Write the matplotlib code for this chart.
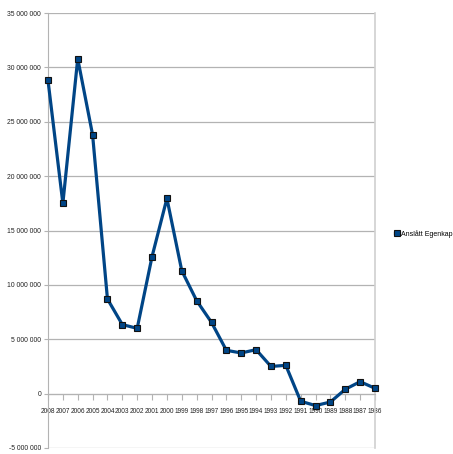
import matplotlib
matplotlib.use("Agg")
import matplotlib.pyplot as plt
from matplotlib.ticker import FuncFormatter

years = ["2008", "2007", "2006", "2005", "2004", "2003", "2002", "2001", "2000",
         "1999", "1998", "1997", "1996", "1995", "1994", "1993", "1992", "1991",
         "1990", "1989", "1988", "1987", "1986"]
equity = [28.8e6, 17.5e6, 30.8e6, 23.8e6, 8.7e6, 6.35e6, 6.0e6, 12.6e6, 17.95e6,
          11.3e6, 8.55e6, 6.55e6, 3.98e6, 3.74e6, 4.04e6, 2.5e6, 2.6e6, -0.7e6,
          -1.1e6, -0.77e6, 0.4e6, 1.1e6, 0.49e6]
series_name = "Anslått Egenkapital"

blue = "#004586"
grey = "#b3b3b3"

plt.rcParams["font.family"] = ["Liberation Sans", "DejaVu Sans"]

fig = plt.figure(figsize=(4.53, 4.54), dpi=100)
ax = fig.add_axes([48 / 453, 1 - 448 / 454, 327 / 453, 435 / 454])

x = list(range(len(years)))
line, = ax.plot(x, equity, "-s", color=blue, lw=2.3, ms=5.0,
                mfc=blue, mec="#111111", mew=0.8, label=series_name,
                clip_on=False, zorder=3)

ax.set_xlim(0, len(years) - 1)
ax.set_ylim(-5e6, 35e6)
ax.set_yticks(range(-5_000_000, 35_000_001, 5_000_000))
ax.yaxis.set_major_formatter(FuncFormatter(
    lambda v, _: f"{int(v):,}".replace(",", " ")))
ax.set_xticks(x)
ax.set_xticklabels(years)

ax.grid(axis="y", color=grey, lw=0.9)
ax.set_axisbelow(True)

ax.spines["top"].set_visible(False)
ax.spines["left"].set_color(grey)
ax.spines["right"].set_color("#d0d0d0")
ax.spines["right"].set_linewidth(1.2)
ax.spines["bottom"].set_position(("data", 0))
ax.spines["bottom"].set_color(grey)

ax.tick_params(axis="y", length=3, color=grey, labelsize=4.9, pad=2,
               labelcolor="#222222")
ax.tick_params(axis="x", length=4, color=grey, labelsize=4.7, pad=6,
               labelcolor="#222222")

fig.legend(handles=[line], labels=[series_name], loc="center left",
           bbox_to_anchor=(389 / 453, 1 - 234 / 454), frameon=False,
           fontsize=5.0, handlelength=0.5, handletextpad=0.3,
           markerscale=0.9)

fig.savefig("out.png")
